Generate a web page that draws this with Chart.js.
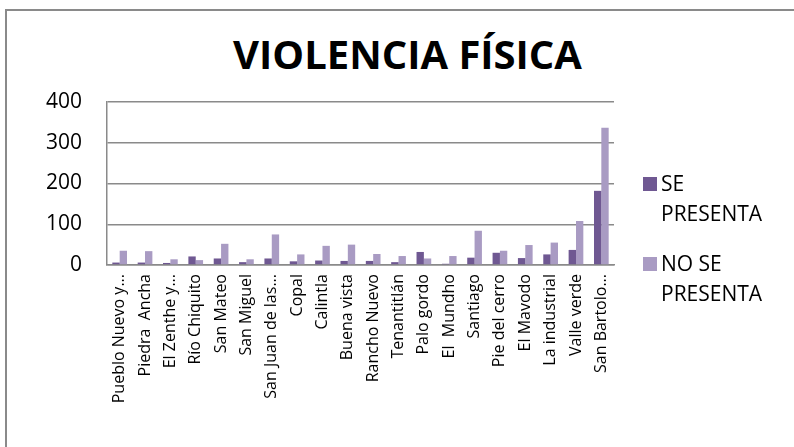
<!DOCTYPE html>
<html>
<head>
<meta charset="utf-8">
<script src="https://cdn.jsdelivr.net/npm/chart.js@4.4.1/dist/chart.umd.min.js"></script>
<style>
  body { margin: 0; background: #fff; }
  #wrap { position: relative; width: 794px; height: 447px; overflow: hidden; }
  #frame { position: absolute; left: 5px; top: 9px; width: 820px; height: 470px;
           border-left: 2px solid #8a8a8a; border-top: 2px solid #8a8a8a; }
  #title { position: absolute; left: 0; width: 815px; top: 34px; text-align: center;
           font: bold 40px 'Open Sans'; line-height: 40px; color: #000; }
  #chart { position: absolute; left: 0; top: 0; }
  #legend { position: absolute; left: 643px; top: 168px; width: 125px;
            font: 21px 'Open Sans'; line-height: 30px; color: #000; }
  .item { display: flex; align-items: flex-start; margin-bottom: 20px; }
  .box { width: 14px; height: 14px; flex: none; margin-top: 9px; margin-right: 4px; }
</style>
</head>
<body>
<div id="wrap">
  <div id="frame"></div>
  <div id="title">VIOLENCIA FÍSICA</div>
  <canvas id="chart" width="794" height="447"></canvas>
  <div id="legend"></div>
</div>
<script>
const categories = [
  'Pueblo Nuevo y...', 'Piedra  Ancha', 'El Zenthe y...', 'Río Chiquito', 'San Mateo',
  'San Miguel', 'San Juan de las...', 'Copal', 'Calintla', 'Buena vista',
  'Rancho Nuevo', 'Tenantitlán', 'Palo gordo', 'El  Mundho', 'Santiago',
  'Pie del cerro', 'El Mavodo', 'La industrial', 'Valle verde', 'San Bartolo...'
];
const sePresenta   = [6, 6, 5, 21, 16, 7, 16, 9, 11, 10, 10, 7, 32, 3, 18, 30, 17, 26, 37, 182];
const noSePresenta = [35, 34, 14, 12, 52, 14, 75, 26, 47, 50, 27, 22, 16, 22, 84, 35, 49, 55, 108, 337];
const seriesNames = ['SE PRESENTA', 'NO SE PRESENTA'];
const seriesColors = ['#6f5892', '#a99bc3'];
const yTicks = [0, 100, 200, 300, 400];

const ctx = document.getElementById('chart').getContext('2d');
const chart = new Chart(ctx, {
  type: 'bar',
  data: {
    labels: categories,
    datasets: [
      { label: seriesNames[0], data: sePresenta, backgroundColor: seriesColors[0] },
      { label: seriesNames[1], data: noSePresenta, backgroundColor: seriesColors[1] }
    ]
  },
  options: {
    responsive: false,
    animation: false,
    layout: { padding: { top: 102, right: 180, left: 0, bottom: 0 } },
    datasets: { bar: { barPercentage: 1, categoryPercentage: 0.58 } },
    plugins: { legend: { display: false }, tooltip: { enabled: false } },
    scales: {
      x: {
        grid: { display: false, drawTicks: false },
        border: { color: '#8a8a8a', width: 1.5 },
        ticks: {
          autoSkip: false, maxRotation: 90, minRotation: 90, padding: 9,
          color: '#000', font: { family: 'Open Sans', size: 16 }
        },
        afterFit: function(scale) { scale.height = 182; }
      },
      y: {
        min: yTicks[0], max: yTicks[yTicks.length - 1],
        afterBuildTicks: function(scale) { scale.ticks = yTicks.map(v => ({ value: v })); },
        grid: { color: '#8a8a8a', lineWidth: 1.5, drawTicks: false },
        border: { color: '#8a8a8a', width: 1.5 },
        ticks: { padding: 25, color: '#000', font: { family: 'Open Sans', size: 21 } },
        afterFit: function(scale) { scale.width = 107; }
      }
    }
  }
});

// legend with wrapped labels, like the original
const legend = document.getElementById('legend');
chart.data.datasets.forEach(function(ds) {
  const item = document.createElement('div');
  item.className = 'item';
  item.innerHTML = '<span class="box" style="background:' + ds.backgroundColor + '"></span><span>' + ds.label + '</span>';
  legend.appendChild(item);
});
</script>
</body>
</html>
